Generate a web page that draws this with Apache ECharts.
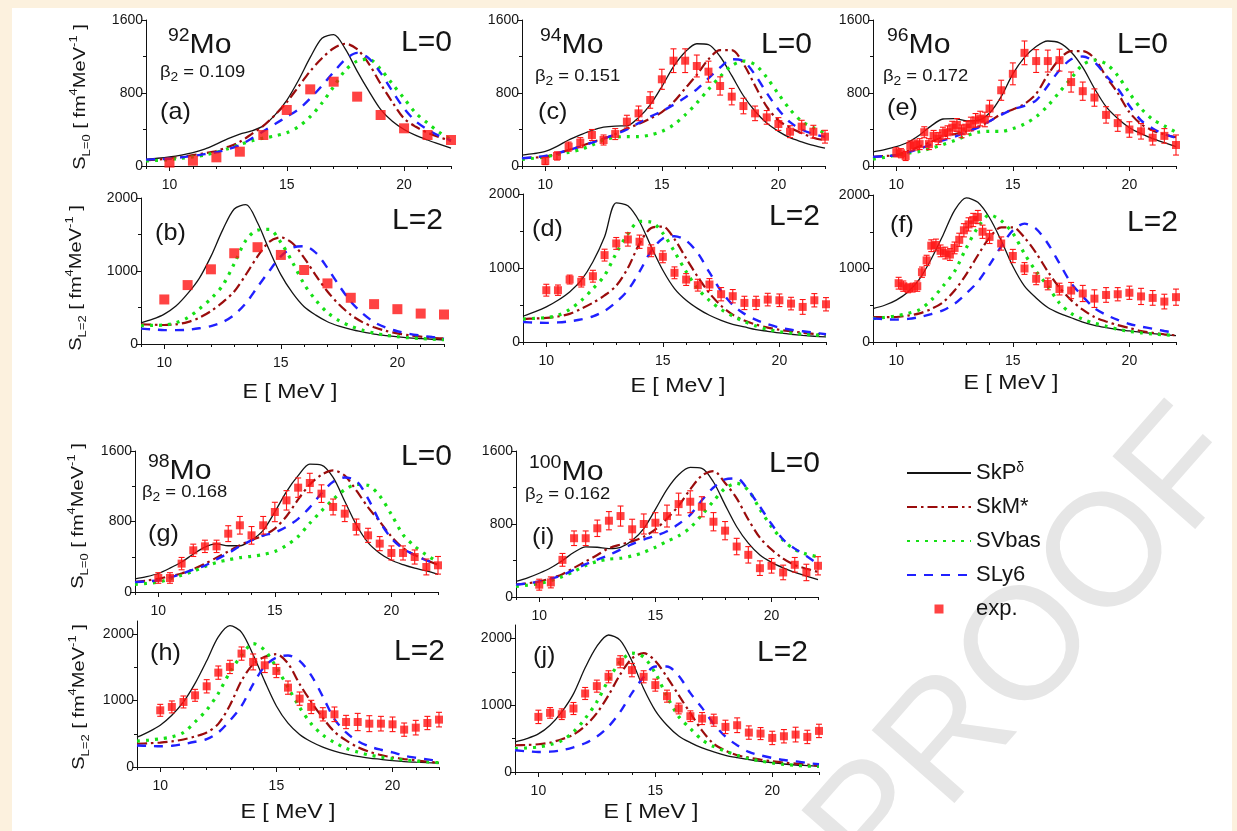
<!DOCTYPE html>
<html lang="en">
<head>
<meta charset="UTF-8">
<title>Mo isotopes - L=0 and L=2 strength functions</title>
<script src="https://cdn.jsdelivr.net/npm/echarts@6.0.0/dist/echarts.min.js"></script>
<style>
  html, body { margin: 0; padding: 0; background: #fcf1de; }
  #main { width: 1237px; height: 831px; }
</style>
</head>
<body>
<div id="main"></div>
<script type="text/javascript">
// energy grid of the calculated curves (MeV)
var energy = [9,9.5,10,10.5,11,11.5,12,12.5,13,13.5,14,14.5,15,15.5,16,16.5,17,17.5,18,18.5,19,19.5,20,20.5,21,21.5,22];

// tick labels
var xMajor = [10, 15, 20];
var xMinor = [9,11,12,13,14,16,17,18,19,21,22];
var yMajorL0 = [0, 800, 1600];
var yMinorL0 = [400, 1200];
var yMajorL2 = [0, 1000, 2000];
var yMinorL2 = [500, 1500];

var nuclei = ['92', '94', '96', '98', '100'];
var beta2 = ['0.109', '0.151', '0.172', '0.168', '0.162'];
var legendNames = ['SkP', 'SkM*', 'SVbas', 'SLy6', 'exp.'];

// (a) 92Mo L=0
var skpA   = [73,85,100,120,146,185,240,300,350,385,440,560,720,940,1190,1400,1440,1280,1040,820,620,490,400,335,285,240,195];
var skmA   = [60,70,85,100,120,140,165,210,265,350,440,560,700,870,1040,1180,1290,1340,1280,1120,900,700,520,430,365,315,275];
var sly6A  = [70,75,80,95,110,130,150,185,230,300,380,460,540,620,740,880,1030,1170,1240,1180,1020,820,630,490,400,330,280];
var svbasA = [55,62,70,85,100,120,150,190,235,275,305,330,365,430,540,690,870,1050,1150,1170,1060,900,740,580,470,370,290];
// (b) 92Mo L=2
var skpB   = [290,340,410,520,690,900,1200,1560,1850,1910,1660,1290,950,700,510,395,305,245,200,165,135,115,100,85,75,65,55];
var skmB   = [270,265,260,270,300,360,450,570,720,950,1200,1400,1460,1380,1180,940,720,540,400,300,230,180,145,120,100,85,75];
var sly6B  = [210,200,190,190,195,215,245,300,400,560,780,1000,1200,1320,1340,1250,1040,800,580,420,300,225,175,140,115,95,80];
var svbasB = [250,255,260,290,360,480,620,800,1100,1420,1560,1570,1390,1120,820,600,430,320,245,190,150,120,100,85,75,65,60];
// (c) 94Mo L=0
var skpC   = [120,135,160,215,285,340,390,425,438,440,530,670,870,1090,1250,1340,1330,1200,990,770,600,470,380,310,265,225,195];
var skmC   = [85,92,100,135,175,215,260,300,350,410,460,520,590,700,850,1000,1170,1270,1270,1120,880,650,500,420,360,310,280];
var sly6C  = [85,95,110,140,175,212,255,300,345,400,470,540,600,670,750,840,960,1080,1170,1150,1000,800,620,480,400,350,320];
var svbasC = [72,85,100,125,150,180,230,285,315,322,322,340,380,450,560,690,840,980,1100,1150,1110,970,790,620,490,420,360];
// (d) 94Mo L=2
var skpD   = [348,406,474,564,677,835,1084,1422,1880,1840,1625,1287,970,722,564,451,361,293,239,203,167,145,122,105,90,78,68];
var skmD   = [310,318,325,345,380,450,530,630,760,1000,1330,1540,1560,1390,1130,880,660,490,370,290,235,195,165,145,125,110,100];
var sly6D  = [270,262,258,265,280,305,345,420,540,700,950,1230,1400,1430,1370,1200,940,690,500,380,300,240,195,165,145,125,105];
var svbasD = [310,320,330,360,440,560,720,900,1200,1460,1630,1620,1470,1220,950,720,560,440,350,275,215,170,140,120,105,95,88];
// (e) 96Mo L=0
var skpE   = [155,180,212,260,340,440,515,520,495,500,580,760,1010,1190,1310,1370,1350,1250,1080,850,650,520,420,355,300,255,212];
var skmE   = [100,110,120,165,215,265,320,350,380,425,490,570,620,680,790,1000,1170,1260,1260,1180,980,800,590,460,390,345,315];
var sly6E  = [100,108,118,150,190,235,280,320,370,420,490,560,620,660,720,880,1050,1170,1200,1140,990,850,660,500,410,350,310];
var svbasE = [75,95,120,140,160,195,235,280,330,370,380,380,410,460,540,660,810,960,1110,1160,1120,990,800,630,510,440,370];
// (f) 96Mo L=2
var skpF   = [455,500,570,680,860,1130,1450,1790,1960,1900,1690,1380,1030,760,600,470,390,330,270,225,195,170,150,130,115,100,88];
var skmF   = [340,338,340,360,390,450,540,700,920,1180,1420,1560,1560,1420,1210,960,740,570,440,340,280,230,190,150,125,105,90];
var sly6F  = [320,310,305,315,340,380,430,520,660,820,1050,1300,1520,1610,1540,1340,1070,800,620,460,370,300,245,210,180,150,125];
var svbasF = [318,335,355,390,440,570,760,960,1280,1560,1730,1650,1480,1200,960,760,530,390,310,255,215,175,145,125,110,98,90];
// (g) 98Mo L=0
var skpG   = [150,175,210,270,340,430,510,545,525,525,590,700,910,1140,1320,1450,1440,1300,1030,760,560,440,360,310,270,240,200];
var skmG   = [115,130,150,180,210,260,320,390,460,530,590,640,720,860,1050,1220,1330,1380,1320,1150,960,800,630,500,420,360,310];
var sly6G  = [112,120,132,165,205,255,300,370,440,520,585,640,675,740,830,960,1120,1250,1300,1260,1060,800,610,490,420,360,320];
var svbasG = [87,98,112,150,190,235,290,335,365,390,405,425,460,530,630,780,920,1050,1160,1220,1210,1090,880,650,520,420,340];
// (h) 98Mo L=2
var skpH   = [450,530,630,780,980,1260,1600,1960,2130,2030,1690,1290,920,660,490,380,300,240,195,160,135,115,95,80,72,65,60];
var skmH   = [350,358,368,385,415,460,520,650,930,1300,1550,1660,1700,1560,1250,980,740,530,400,300,230,180,145,120,100,80,65];
var sly6H  = [325,318,312,320,345,380,420,520,700,920,1250,1520,1650,1680,1600,1380,1060,720,520,390,310,260,220,170,140,115,90];
var svbasH = [390,405,425,455,520,680,860,1110,1430,1680,1860,1760,1500,1200,900,650,480,370,280,225,180,150,125,105,90,75,65];
// (i) 100Mo L=0
var skpI   = [170,210,260,320,400,490,550,545,530,545,620,750,960,1180,1340,1420,1410,1260,1010,770,590,460,380,320,270,230,190];
var skmI   = [135,150,170,205,250,320,390,460,535,575,610,660,740,860,1000,1180,1330,1380,1250,1080,850,650,520,420,350,310,275];
var sly6I  = [135,150,170,200,240,300,360,410,460,520,580,630,670,720,800,900,1060,1200,1290,1300,1170,990,800,630,530,450,360];
var svbasI = [115,130,148,180,225,280,345,390,415,425,450,490,545,610,670,760,900,1050,1190,1245,1170,960,770,620,520,470,440];
// (j) 100Mo L=2
var skpJ   = [450,500,570,700,900,1170,1560,1880,2050,1970,1660,1250,920,700,540,440,360,300,250,215,185,160,140,120,105,95,85];
var skmJ   = [400,405,415,440,490,560,690,880,1150,1460,1700,1780,1660,1420,1150,880,620,420,320,250,215,185,160,140,125,110,100];
var sly6J  = [325,310,300,305,325,370,430,530,680,900,1180,1420,1580,1580,1440,1180,960,720,530,400,300,250,210,180,160,135,115];
var svbasJ = [350,360,375,410,470,600,800,1050,1380,1650,1780,1720,1480,1130,830,650,480,380,310,250,200,165,135,115,100,88,82];

// experimental points
var expEInt  = [10,11,12,13,14,15,16,17,18,19,20,21,22];
var expEHalf = [10,10.5,11,11.5,12,12.5,13,13.5,14,14.5,15,15.5,16,16.5,17,17.5,18,18.5,19,19.5,20,20.5,21,21.5,22];
var expEE = [10,10.2,10.4,10.6,10.8,11,11.2,11.4,11.6,11.8,12,12.2,12.4,12.6,12.8,13,13.2,13.4,13.6,13.8,14,14.5,15,15.5,16,16.5,17,17.5,18,18.5,19,19.5,20,20.5,21,21.5,22];
var expFE = [10.1,10.3,10.5,10.7,10.9,11.1,11.3,11.5,11.7,11.9,12.1,12.3,12.5,12.7,12.9,13.1,13.3,13.5,13.7,14,14.5,15,15.5,16,16.5,17,17.5,18,18.5,19,19.5,20,20.5,21,21.5,22];

var expA = [37,58,95,157,340,614,840,924,760,559,413,340,285];
var expB = [610,807,1023,1243,1326,1220,1014,830,633,546,477,417,404];
var expC = [55,110,212,256,340,285,350,486,577,723,950,1154,1154,1096,1034,877,760,657,577,533,460,376,431,376,321];
var errC = [40,45,50,55,60,55,60,70,80,90,110,130,130,120,115,100,90,85,80,75,70,65,70,70,70];
var expD = [700,700,844,813,889,1174,1332,1386,1355,1233,1151,935,844,768,777,646,619,528,528,573,564,519,474,564,510];
var errD = [80,70,60,70,80,80,80,90,90,80,80,80,80,80,80,90,90,90,90,85,85,85,100,90,90];
var expE = [150,140,110,220,230,240,370,240,330,300,360,370,420,450,380,420,460,500,520,510,630,830,1010,1240,1150,1150,1160,920,820,750,560,470,400,380,310,330,230];
var errE = [50,50,50,55,55,60,60,60,60,65,65,70,70,70,70,70,75,75,80,80,90,110,120,130,125,120,120,110,100,95,90,90,85,85,80,80,110];
var expF = [800,760,730,740,760,950,1110,1310,1320,1240,1210,1190,1280,1390,1520,1600,1660,1700,1500,1430,1340,1170,1000,860,790,720,700,660,590,640,650,670,620,600,550,610];
var errF = [80,70,60,60,70,70,70,80,80,80,80,80,80,90,90,90,90,90,90,90,90,90,80,80,80,80,110,110,120,100,90,90,110,100,100,110];
var expG = [159,159,322,473,518,518,662,757,643,757,908,1040,1184,1237,1116,965,889,738,643,549,443,443,397,284,303];
var errG = [60,60,70,70,70,70,90,100,100,100,110,110,110,110,100,90,90,90,80,80,80,80,80,90,100];
var expH = [854,905,980,1080,1216,1422,1508,1709,1583,1533,1447,1196,1030,905,794,794,678,678,653,653,643,563,593,663,714];
var errH = [90,90,90,90,100,100,100,100,120,110,100,100,100,100,100,110,100,130,120,110,110,100,110,100,110];
var expI = [135,160,407,644,644,753,836,887,742,800,814,887,1018,1044,989,825,727,553,462,316,342,269,353,269,342];
var errI = [60,60,70,80,80,90,100,110,110,110,110,120,120,120,110,100,100,90,90,80,80,80,80,90,100];
var expJ = [825,885,865,950,1175,1285,1425,1650,1525,1425,1300,1135,950,835,800,775,675,700,590,575,510,535,560,525,615];
var errJ = [100,80,80,90,90,90,90,90,100,90,90,90,80,80,90,90,100,110,100,90,100,100,110,100,100];

var FONT = '"Liberation Sans", Arial, sans-serif';
var INK = '#151515';

// panel boxes: left, top, right, bottom (px)
var panels = [
  {box:[146,20,451,166],  yMax:1600, L:0, c:[skpA,skmA,svbasA,sly6A], ex:expEInt,  ey:expA, err:null, sym:10},
  {box:[141,198,444,344], yMax:2000, L:2, c:[skpB,skmB,svbasB,sly6B], ex:expEInt,  ey:expB, err:null, sym:10},
  {box:[522,20,825,166],  yMax:1600, L:0, c:[skpC,skmC,svbasC,sly6C], ex:expEHalf, ey:expC, err:errC, sym:8},
  {box:[523,194,826,342], yMax:2000, L:2, c:[skpD,skmD,svbasD,sly6D], ex:expEHalf, ey:expD, err:errD, sym:8},
  {box:[873,20,1176,166], yMax:1600, L:0, c:[skpE,skmE,svbasE,sly6E], ex:expEE,    ey:expE, err:errE, sym:8},
  {box:[873,195,1176,342],yMax:2000, L:2, c:[skpF,skmF,svbasF,sly6F], ex:expFE,    ey:expF, err:errF, sym:8},
  {box:[135,451,438,592], yMax:1600, L:0, c:[skpG,skmG,svbasG,sly6G], ex:expEHalf, ey:expG, err:errG, sym:8},
  {box:[137,621,439,767], yMax:2200, L:2, c:[skpH,skmH,svbasH,sly6H], ex:expEHalf, ey:expH, err:errH, sym:8},
  {box:[516,451,818,597], yMax:1600, L:0, c:[skpI,skmI,svbasI,sly6I], ex:expEHalf, ey:expI, err:errI, sym:8},
  {box:[515,625,819,772], yMax:2200, L:2, c:[skpJ,skmJ,svbasJ,sly6J], ex:expEHalf, ey:expJ, err:errJ, sym:8}
];

var lineStyles = [
  {color:'#141414', width:1.3, type:'solid'},
  {color:'#9a0c0c', width:2.2, type:[10,4,2.5,4]},
  {color:'#16e016', width:3.2, type:[3,6]},
  {color:'#2020ff', width:2.4, type:[9,8]}
];
var EXP_RED = '#ff1414';

function renderErr(params, api) {
  var x = api.value(0);
  var p1 = api.coord([x, api.value(1)]);
  var p2 = api.coord([x, api.value(2)]);
  var w = 3;
  var st = {stroke: EXP_RED, lineWidth: 1.1};
  return {type:'group', children:[
    {type:'line', shape:{x1:p1[0], y1:p1[1], x2:p2[0], y2:p2[1]}, style:st},
    {type:'line', shape:{x1:p1[0]-w, y1:p1[1], x2:p1[0]+w, y2:p1[1]}, style:st},
    {type:'line', shape:{x1:p2[0]-w, y1:p2[1], x2:p2[0]+w, y2:p2[1]}, style:st}
  ]};
}

var grids = [], xAxes = [], yAxes = [], series = [];
var axisLineStyle = {color:'#111', width:1};
var labelStyle = {fontSize:14, fontFamily:FONT, color:INK, formatter:function (v) { return String(v); }};

panels.forEach(function (p, i) {
  grids.push({left:p.box[0], top:p.box[1], width:p.box[2]-p.box[0], height:p.box[3]-p.box[1]});
  var yMaj = p.L === 0 ? yMajorL0 : yMajorL2;
  var yMin = p.L === 0 ? yMinorL0 : yMinorL2;
  // main axes
  xAxes.push({gridIndex:i, type:'value', min:9, max:22, position:'bottom',
    axisLine:{onZero:false, lineStyle:axisLineStyle},
    axisTick:{customValues:xMajor, length:5, lineStyle:axisLineStyle},
    axisLabel:Object.assign({customValues:xMajor, margin:12}, labelStyle),
    splitLine:{show:false}});
  yAxes.push({gridIndex:i, type:'value', min:0, max:p.yMax, position:'left',
    axisLine:{show:true, onZero:false, lineStyle:axisLineStyle},
    axisTick:{show:true, customValues:yMaj, length:5, lineStyle:axisLineStyle},
    axisLabel:Object.assign({customValues:yMaj, margin:3}, labelStyle),
    splitLine:{show:false}});
  // minor tick axes
  xAxes.push({gridIndex:i, type:'value', min:9, max:22, position:'bottom',
    axisLine:{show:false, onZero:false}, axisLabel:{show:false}, splitLine:{show:false},
    axisTick:{customValues:xMinor, length:3, lineStyle:axisLineStyle}});
  yAxes.push({gridIndex:i, type:'value', min:0, max:p.yMax, position:'left',
    axisLine:{show:false, onZero:false}, axisLabel:{show:false}, splitLine:{show:false},
    axisTick:{show:true, customValues:yMin, length:3, lineStyle:axisLineStyle}});

  p.c.forEach(function (vals, k) {
    series.push({
      name: legendNames[k], type:'line', xAxisIndex:2*i, yAxisIndex:2*i,
      data: energy.map(function (e, j) { return [e, vals[j]]; }),
      symbol:'none', smooth:0.3, silent:true, z:3,
      lineStyle: lineStyles[k], itemStyle:{color: lineStyles[k].color}
    });
  });
  if (p.err) {
    series.push({
      name:'errbar', type:'custom', xAxisIndex:2*i, yAxisIndex:2*i, silent:true, z:4,
      renderItem: renderErr,
      data: p.ex.map(function (e, j) { return [e, p.ey[j] - p.err[j], p.ey[j] + p.err[j]]; })
    });
  }
  series.push({
    name:'exp.', type:'scatter', xAxisIndex:2*i, yAxisIndex:2*i, silent:true, z:5,
    symbol:'rect', symbolSize:p.sym, itemStyle:{color:EXP_RED},
    data: p.ex.map(function (e, j) { return [e, p.ey[j]]; })
  });
});

// text annotations
var rich = {
  iso:  {fontSize:18, fontFamily:FONT, fill:INK, lineHeight:12, verticalAlign:'top'},
  mo:   {fontSize:28, fontFamily:FONT, fill:INK, lineHeight:32, verticalAlign:'bottom'},
  b:    {fontSize:16, fontFamily:FONT, fill:INK, lineHeight:22, verticalAlign:'middle'},
  bsub: {fontSize:12, fontFamily:FONT, fill:INK, lineHeight:12, verticalAlign:'bottom'},
  s:    {fontSize:17, fontFamily:FONT, fill:INK, lineHeight:24, verticalAlign:'middle'},
  sub:  {fontSize:11, fontFamily:FONT, fill:INK, lineHeight:11, verticalAlign:'bottom'},
  sup:  {fontSize:11, fontFamily:FONT, fill:INK, lineHeight:11, verticalAlign:'top'}
};
function txt(x, y, text, size, align, extra) {
  return Object.assign({
    type:'text', x:x, y:y, z:20, silent:true,
    style:{text:text, rich:rich, font:size + 'px ' + FONT, fill:INK,
           align:align, textAlign:align, verticalAlign:'middle', textVerticalAlign:'middle'}
  }, extra || {});
}

var graphics = [
  {type:'rect', z:-20, silent:true, shape:{x:12, y:8, width:1220, height:823}, style:{fill:'#ffffff'}},
  txt(1030, 650, 'PROOF', 160, 'center', {z:-10, rotation:0.85, style:{text:'PROOF', font:'160px ' + FONT, fill:'#e6e6e6', align:'center', textAlign:'center', verticalAlign:'middle', textVerticalAlign:'middle'}})
];

var isoPos = [[168,43],[540,43],[887,43],[148,469],[529,470]];
var betaPos = [[160,73],[535,77],[883,77],[142,493],[525,495]];
isoPos.forEach(function (q, k) {
  graphics.push(txt(q[0], q[1], '{iso|' + nuclei[k] + '}{mo|Mo}', 28, 'left', {scaleX:1.08}));
  graphics.push(txt(betaPos[k][0], betaPos[k][1], '{b|β}{bsub|2}{b| = ' + beta2[k] + '}', 16, 'left', {scaleX:1.15}));
});

var letters = ['(a)','(b)','(c)','(d)','(e)','(f)','(g)','(h)','(i)','(j)'];
var letterPos = [[160,112],[155,233],[538,112],[532,229],[887,108],[890,225],[148,534],[150,653],[532,537],[533,656]];
var lPos = [[452,43],[443,221],[812,45],[820,217],[1168,45],[1178,223],[452,457],[445,652],[820,464],[808,653]];
letters.forEach(function (t, k) {
  graphics.push(txt(letterPos[k][0], letterPos[k][1], t, 24, 'left', {scaleX:1.05}));
  graphics.push(txt(lPos[k][0], lPos[k][1], panels[k].L === 0 ? 'L=0' : 'L=2', 30, 'right'));
});

var ePos = [[290,392],[678,386],[1011,383],[288,812],[651,812]];
ePos.forEach(function (q) {
  graphics.push(txt(q[0], q[1], 'E [ MeV ]', 21, 'center', {scaleX:1.1}));
});

var yTitlePos = [[80,97,'0'],[76,278,'2'],[78,516,'0'],[79,697,'2']];
yTitlePos.forEach(function (q) {
  graphics.push(txt(q[0], q[1], '{s|S}{sub|L=' + q[2] + '}{s| [ fm}{sup|4}{s|MeV}{sup|-1}{s| ]}', 17, 'center',
    {rotation:Math.PI / 2, scaleX:1.18}));
});

// legend entries: hide the centre marker on the line icons, small square for exp.
var hidden = {opacity:0};
var legendData = [
  {name:'SkP', itemStyle:hidden},
  {name:'SkM*', itemStyle:hidden},
  {name:'SVbas', itemStyle:hidden},
  {name:'SLy6', itemStyle:hidden},
  {name:'exp.', icon:'path://M0,0L10,0L10,10L0,10Z'}
];

var myChart = echarts.init(document.getElementById('main'));
var option = {
  backgroundColor:'#fcf1de',
  animation:false,
  grid:grids, xAxis:xAxes, yAxis:yAxes, series:series,
  legend:{
    data:legendData, orient:'vertical', left:906, top:461,
    itemWidth:64, itemHeight:9, itemGap:10, selectedMode:false, padding:0,
    textStyle:{fontSize:22, fontFamily:FONT, color:INK, lineHeight:24,
      rich:{n:{fontSize:22, fontFamily:FONT, color:INK, lineHeight:24},
            d:{fontSize:14, fontFamily:FONT, color:INK, lineHeight:14, verticalAlign:'top'}}},
    formatter:function (n) { return n === 'SkP' ? '{n|SkP}{d|δ}' : n; }
  },
  graphic:{elements:graphics}
};
myChart.setOption(option);
</script>
</body>
</html>
